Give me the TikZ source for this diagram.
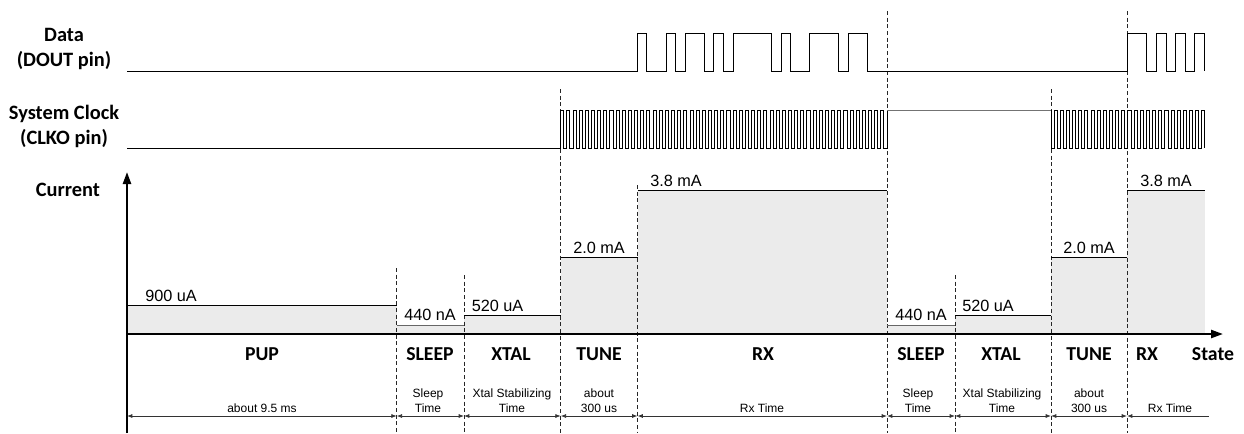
\documentclass[tikz,border=0pt]{standalone}
\usepackage{fontspec}
\setmainfont{Liberation Sans}
\newfontfamily\calibri{Carlito}
\usetikzlibrary{arrows.meta, positioning, calc}
\def\clkp{6.157}
\def\bitw{9.583}

\begin{document}
\begin{tikzpicture}[x=0.75pt, y=-0.75pt,
  sig/.style={line width=0.75pt, black},
  sigidle/.style={line width=0.75pt, black!55},
  bound/.style={line width=0.6pt, dash pattern=on 3pt off 2pt, black!85},
  lvlfill/.style={fill=black!8},
  lvlline/.style={line width=0.75pt},
  axis/.style={line width=1.7pt, -{Triangle[length=9pt,width=6pt]}},
  dim/.style={{Latex[length=4pt,width=3pt]}-{Latex[length=4pt,width=3pt]}, line width=0.55pt, black!80},
  dimopen/.style={{Latex[length=4pt,width=3pt]}-, line width=0.55pt, black!80},
  signame/.style={font=\calibri\bfseries\fontsize{15.3}{18.75}\selectfont, align=center, anchor=base, inner sep=0pt},
  state/.style={font=\calibri\bfseries\fontsize{14.8}{16}\selectfont, anchor=base, inner sep=0pt},
  curr/.style={font=\fontsize{12.2}{14}\selectfont, anchor=base west, inner sep=0pt},
  tlbl/.style={font=\fontsize{9}{11.25}\selectfont, align=center, anchor=base, inner sep=0pt}
]
\useasboundingbox (0,0) rectangle (1244,433);

% current levels
\foreach \xa/\xb/\yl/\c in {127/396.7/305.7/black, 396.7/464/325/black!60, 464/560.7/315.3/black,
    560.7/637.5/257.7/black, 637.5/887/190.7/black, 887/955/325/black!60, 955/1051/315.3/black,
    1051/1127/257.7/black, 1127/1204.5/190.7/black}
  \fill[lvlfill] (\xa,334) rectangle (\xb,\yl);

% state boundaries
\foreach \x/\yt in {396.7/268, 464/275, 560.7/89, 637.5/185, 887/11, 955/275, 1051/89, 1127/11}
  \draw[bound] (\x,\yt) -- (\x,433);

\foreach \xa/\xb/\yl/\c in {127/396.7/305.7/black, 396.7/464/325/black!60, 464/560.7/315.3/black,
    560.7/637.5/257.7/black, 637.5/887/190.7/black, 887/955/325/black!60, 955/1051/315.3/black,
    1051/1127/257.7/black, 1127/1204.5/190.7/black}
  \draw[lvlline, \c] (\xa,\yl) -- (\xb,\yl);

% data (DOUT)
\draw[sig] (127,71)
  \foreach \e [count=\i] in {0,1,3,4,5,7,8,9,10,14,15,16,18,21,22,24} { -| ({637.3+\e*\bitw},{71-38*isodd(\i)}) }
  \foreach \e [count=\i] in {0,2,3,4,5,6,7,8} { -| ({1127.7+\e*\bitw},{71-38*isodd(\i)}) };

% system clock (CLKO)
\draw[sig] (127,148)
  \foreach \k in {0,...,52} { -| ({560.7+\k*\clkp},110) -| ({560.7+(\k+0.5)*\clkp},148) } -| (887,110);
\draw[sigidle] (887,110) -- (1051,110);
\draw[sig] (1051,110)
  \foreach \k in {0,...,24} { -| ({1051+\k*\clkp},148) -| ({1051+(\k+0.5)*\clkp},110) } -| (1204.9,148);

% axes
\draw[axis] (127,433) -- (127,172);
\draw[axis] (127,334) -- (1223,334);

% signal names
\node[signame] (data) at (64,66) {Data\\(DOUT pin)};
\node[signame] (clko) at (64,144) {System Clock\\(CLKO pin)};
\node[signame] (curr) at (68,196) {Current};

% current values
\node[curr] (i900) at (145,301.5) {900 uA};
\node[curr] (isleepa) at (404,320.5) {440 nA};
\node[curr] (ixtala) at (471.5,311) {520 uA};
\node[curr] (itunea) at (573,253) {2.0 mA};
\node[curr] (irxa) at (650,186) {3.8 mA};
\node[curr] (isleepb) at (895,320.5) {440 nA};
\node[curr] (ixtalb) at (962,311) {520 uA};
\node[curr] (ituneb) at (1063,253) {2.0 mA};
\node[curr] (irxb) at (1140,186) {3.8 mA};

% states
\node[state] (pup) at (262,360) {PUP};
\node[state] (sleepa) at (430,360) {SLEEP};
\node[state] (xtala) at (511,360) {XTAL};
\node[state] (tunea) at (599,360) {TUNE};
\node[state] (rxa) at (763,360) {RX};
\node[state] (sleepb) at (921,360) {SLEEP};
\node[state] (xtalb) at (1001,360) {XTAL};
\node[state] (tuneb) at (1089,360) {TUNE};
\node[state] (rxb) at (1147,360) {RX};
\node[state] (statelbl) at (1213,360) {State};

% durations
\foreach \n/\x in {0/127, 1/396.7, 2/464, 3/560.7, 4/637.5, 5/887, 6/955, 7/1051, 8/1127, 9/1209}
  \coordinate (t\n) at (\x,416);
\foreach \a/\b in {0/1, 1/2, 2/3, 3/4, 4/5, 5/6, 6/7, 7/8}
  \draw[dim] (t\a) -- (t\b);
\draw[dimopen] (t8) -- (t9);

\node[tlbl] (dpup) at (262,412.5) {about 9.5 ms};
\node[tlbl] (dsleepa) at (428,412.5) {Sleep\\Time};
\node[tlbl] (dxtala) at (512,412.5) {Xtal Stabilizing\\Time};
\node[tlbl] (dtunea) at (599,412.5) {about\\300 us};
\node[tlbl] (drxa) at (762,412.5) {Rx Time};
\node[tlbl] (dsleepb) at (918,412.5) {Sleep\\Time};
\node[tlbl] (dxtalb) at (1002,412.5) {Xtal Stabilizing\\Time};
\node[tlbl] (dtuneb) at (1089,412.5) {about\\300 us};
\node[tlbl] (drxb) at (1170,412.5) {Rx Time};
\end{tikzpicture}
\end{document}
